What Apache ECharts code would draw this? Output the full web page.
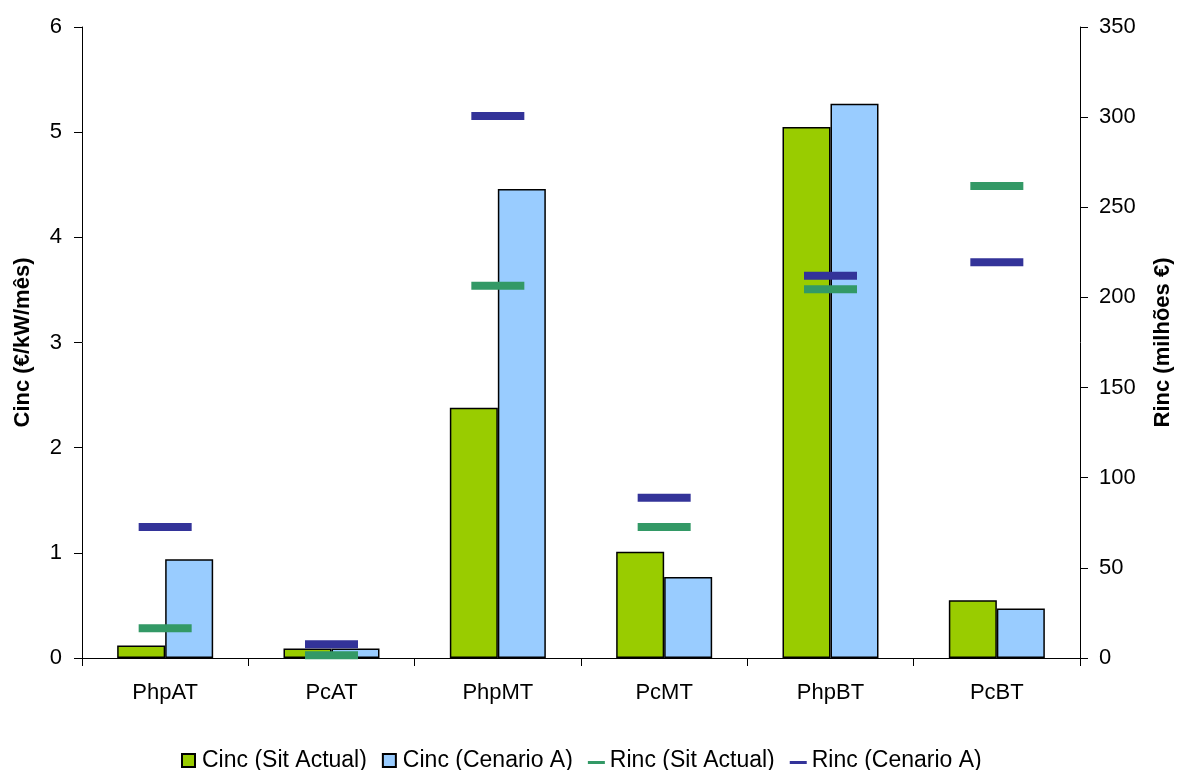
<!DOCTYPE html>
<html>
<head>
<meta charset="utf-8">
<script src="https://cdn.jsdelivr.net/npm/echarts@6/dist/echarts.min.js"></script>
<style>
  html, body { margin: 0; padding: 0; background: #ffffff; }
  #chart { width: 1177px; height: 770px; }
</style>
</head>
<body>
<div id="chart"></div>
<script>
// Tariff components
const categories = ['PhpAT', 'PcAT', 'PhpMT', 'PcMT', 'PhpBT', 'PcBT'];

// Cinc (€/kW/mês) – bars on the left axis
const cincSitActual = [0.12, 0.09, 2.38, 1.01, 5.05, 0.55];
const cincCenarioA  = [0.94, 0.09, 4.46, 0.77, 5.27, 0.47];

// Rinc (milhões €) – markers on the right axis
const rincSitActual = [16.5, 1.5, 206.5, 72.7, 204.5, 261.8];
const rincCenarioA  = [72.7, 7.6, 300.7, 88.9, 212.0, 219.5];

const FONT = 'Liberation Sans, Arial, sans-serif';
// legend icons: a 13px square for the bars, a thin dash for the markers
const squareIcon = 'path://M0,0 L13,0 L13,13 L0,13 Z';
const dashIcon = 'path://M0,0 M0,7 L17,7 L17,10 L0,10 Z M17,13';

const chart = echarts.init(document.getElementById('chart'), null, { renderer: 'canvas' });

chart.setOption({
  animation: false,
  backgroundColor: '#ffffff',
  textStyle: { fontFamily: FONT, color: '#000' },
  grid: { left: 82, right: 97, top: 27, bottom: 112, containLabel: false, outerBoundsMode: 'none' },
  legend: {
    top: 744,
    left: 176,
    itemWidth: 17,
    itemHeight: 13,
    itemGap: 15,
    symbolKeepAspect: true,
    textStyle: { fontFamily: FONT, fontSize: 23, color: '#000' },
    data: [
      { name: 'Cinc (Sit Actual)', icon: squareIcon },
      { name: 'Cinc (Cenario A)', icon: squareIcon },
      { name: 'Rinc (Sit Actual)', icon: dashIcon },
      { name: 'Rinc (Cenario A)', icon: dashIcon }
    ]
  },
  xAxis: {
    type: 'category',
    data: categories,
    boundaryGap: true,
    axisLine: { lineStyle: { color: '#000', width: 1 } },
    axisTick: { show: true, alignWithLabel: false, length: 8, lineStyle: { color: '#000' } },
    axisLabel: { fontFamily: FONT, fontSize: 22, color: '#000', margin: 24 },
    splitLine: { show: false }
  },
  yAxis: [
    {
      type: 'value',
      min: 0, max: 6, interval: 1,
      name: 'Cinc (€/kW/mês)',
      nameLocation: 'middle',
      nameGap: 48,
      nameTextStyle: { fontFamily: FONT, fontSize: 22, fontWeight: 'bold', color: '#000' },
      axisLine: { show: true, lineStyle: { color: '#000', width: 1 } },
      axisTick: { show: true, length: 8, lineStyle: { color: '#000' } },
      axisLabel: { fontFamily: FONT, fontSize: 22, color: '#000', margin: 20 },
      splitLine: { show: false }
    },
    {
      type: 'value',
      min: 0, max: 350, interval: 50,
      name: 'Rinc (milhões €)',
      nameLocation: 'middle',
      nameGap: 72,
      nameTextStyle: { fontFamily: FONT, fontSize: 22, fontWeight: 'bold', color: '#000' },
      position: 'right',
      axisLine: { show: true, lineStyle: { color: '#000', width: 1 } },
      axisTick: { show: true, length: 8, lineStyle: { color: '#000' } },
      axisLabel: { fontFamily: FONT, fontSize: 22, color: '#000', margin: 19 },
      splitLine: { show: false }
    }
  ],
  series: [
    {
      name: 'Cinc (Sit Actual)',
      type: 'bar',
      yAxisIndex: 0,
      data: cincSitActual,
      barWidth: 48,
      barGap: '0%',
      itemStyle: { color: '#99CC00', borderColor: '#000', borderWidth: 1.5 },
      z: 2
    },
    {
      name: 'Cinc (Cenario A)',
      type: 'bar',
      yAxisIndex: 0,
      data: cincCenarioA,
      barWidth: 48,
      barGap: '0%',
      itemStyle: { color: '#99CCFF', borderColor: '#000', borderWidth: 1.5 },
      z: 2
    },
    {
      name: 'Rinc (Sit Actual)',
      type: 'scatter',
      yAxisIndex: 1,
      data: rincSitActual,
      symbol: 'rect',
      symbolSize: [53, 8],
      itemStyle: { color: '#339966', opacity: 1 },
      z: 3
    },
    {
      name: 'Rinc (Cenario A)',
      type: 'scatter',
      yAxisIndex: 1,
      data: rincCenarioA,
      symbol: 'rect',
      symbolSize: [53, 8],
      itemStyle: { color: '#333399', opacity: 1 },
      z: 4
    }
  ]
});
</script>
</body>
</html>
